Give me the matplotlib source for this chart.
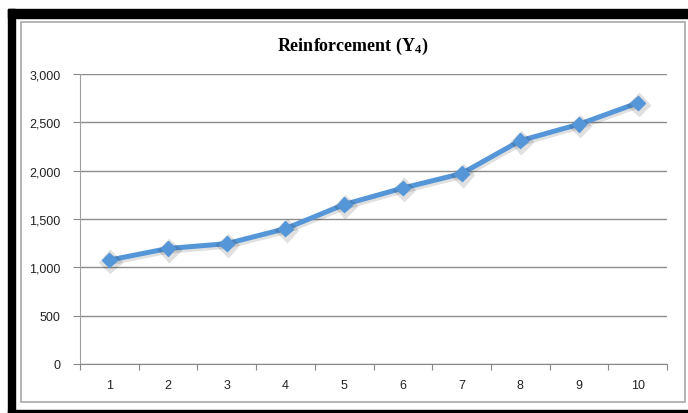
import matplotlib.pyplot as plt
import matplotlib.patheffects as pe
from matplotlib.patches import Rectangle

# values
periods = [1, 2, 3, 4, 5, 6, 7, 8, 9, 10]
reinforcement = [1075, 1195, 1245, 1400, 1650, 1820, 1970, 2310, 2480, 2700]
y_ticks = [0, 500, 1000, 1500, 2000, 2500, 3000]

plt.rcParams["mathtext.fontset"] = "custom"
plt.rcParams["mathtext.rm"] = "Liberation Serif:bold"
plt.rcParams["mathtext.it"] = "Liberation Serif:bold"
plt.rcParams["mathtext.bf"] = "Liberation Serif:bold"

fig = plt.figure(figsize=(6.88, 4.14), dpi=100)
W, H = 688, 414


def box(x0, y0, x1, y1, **kw):
    # pixel box (top-left origin) -> figure rectangle
    fig.patches.append(Rectangle((x0 / W, 1 - y1 / H), (x1 - x0) / W, (y1 - y0) / H,
                                 transform=fig.transFigure, **kw))


# black frame bands (top, left, bottom) and thin grey chart border
box(8, 10, 688, 19, color="black")
box(8, 10, 15, 414, color="black")
box(8, 411, 688, 414, color="black")
box(21, 23, 685, 403, fill=False, edgecolor="#a8a8a8", linewidth=1.2)

ax = fig.add_axes([80 / W, 1 - 365 / H, 587 / W, 290 / H])

x = [p - 0.5 for p in periods]
ax.plot(x, reinforcement, color="#5596d8", linewidth=3.6, marker="D", markersize=7.5,
        markeredgecolor="#5596d8",
        path_effects=[pe.SimpleLineShadow(offset=(0.8, -1.2), alpha=0.12, linewidth=5),
                      pe.Normal()])

ax.set_xlim(0, 10)
ax.set_ylim(0, 3000)
ax.set_yticks(y_ticks)
ax.set_yticklabels([f"{v:,}" for v in y_ticks])
ax.set_xticks(range(11))
ax.set_xticklabels([])
ax.set_xticks(x, minor=True)
ax.set_xticklabels([str(p) for p in periods], minor=True)
ax.tick_params(axis="x", which="major", length=4, color="#888888")
ax.tick_params(axis="x", which="minor", length=0, pad=11)
ax.tick_params(axis="y", length=5, color="#888888", pad=9)
for lab in ax.get_xticklabels(minor=True) + ax.get_yticklabels():
    lab.set_family(["Liberation Sans", "DejaVu Sans"])
    lab.set_fontsize(9)
    lab.set_color("#222222")

ax.grid(axis="y", color="#8c8c8c", linewidth=1)
ax.set_axisbelow(True)
for side in ["top", "right"]:
    ax.spines[side].set_visible(False)
ax.spines["left"].set_color("#a0a0a0")
ax.spines["bottom"].set_color("#888888")

fig.text(353 / W, 1 - 46 / H, r"Reinforcement (Y$_4$)", ha="center", va="center",
         fontsize=13, fontweight="bold", family="Liberation Serif")

fig.savefig("out.png", dpi=100)
